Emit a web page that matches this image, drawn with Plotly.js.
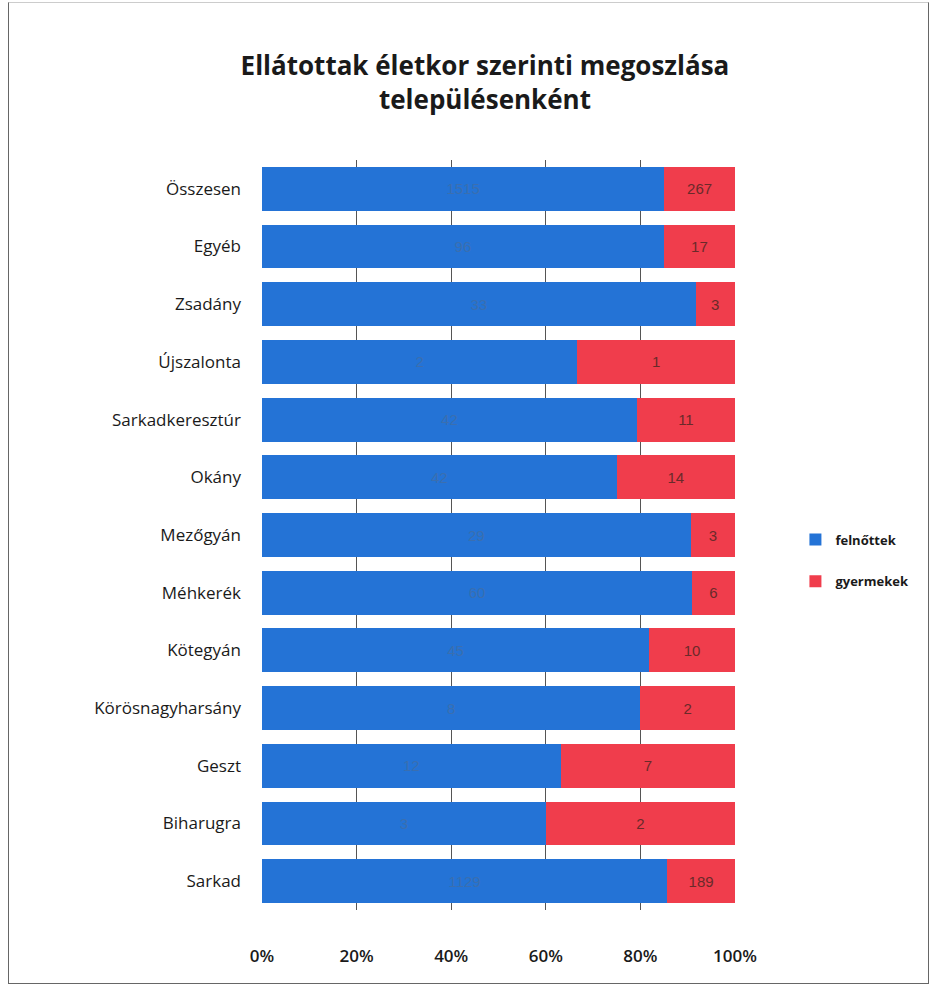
<!DOCTYPE html>
<html><head><meta charset="utf-8">
<script src="https://cdn.plot.ly/plotly-3.0.1.min.js"></script>
<style>
html,body{margin:0;padding:0;background:#fff;}
#frame{position:absolute;left:8px;top:2px;width:921px;height:982px;border:1.5px solid #666;border-top-color:#ccc;box-sizing:border-box;}
#chart{position:absolute;left:0;top:0;width:938px;height:992px;}
</style></head>
<body>
<div id="frame"></div>
<div id="chart"></div>
<script>
const categories = ["Összesen","Egyéb","Zsadány","Újszalonta","Sarkadkeresztúr","Okány","Mezőgyán","Méhkerék","Kötegyán","Körösnagyharsány","Geszt","Biharugra","Sarkad"];
const felnottek = [1515, 96, 33, 2, 42, 42, 29, 60, 45, 8, 12, 3, 1129];
const gyermekek = [267, 17, 3, 1, 11, 14, 3, 6, 10, 2, 7, 2, 189];
const xTicks = [0,20,40,60,80,100];

const traces = [
  {type:'bar', orientation:'h', name:'felnőttek', legendgroup:'a', y:categories, x:felnottek,
   marker:{color:'#2473d6'}, text:felnottek.map(String), textposition:'inside',
   insidetextanchor:'middle', textfont:{color:'#3a6fb0', size:15, family:'Liberation Sans'},
   hoverinfo:'x+y'},
  {type:'bar', orientation:'h', name:'gyermekek', legendgroup:'b', y:categories, x:gyermekek,
   marker:{color:'#f03d4c'}, text:gyermekek.map(String), textposition:'inside',
   insidetextanchor:'middle', textfont:{color:'#6a2a2a', size:15, family:'Liberation Sans'},
   hoverinfo:'x+y'}
];

const layout = {
  width:938, height:992,
  margin:{l:262, r:203, t:160, b:82},
  paper_bgcolor:'rgba(0,0,0,0)', plot_bgcolor:'#fff',
  barmode:'stack', barnorm:'percent', bargap:0.24,
  title:{text:'<b>Ellátottak életkor szerinti megoszlása<br>településenként</b>',
         x:0.517, xanchor:'center', y:0.924, yanchor:'top',
         font:{family:'Open Sans, Liberation Sans', size:26, color:'#1a1a1a'}},
  xaxis:{range:[0,100], tickvals:xTicks, ticktext:xTicks.map(v=>v+'%'),
         showgrid:true, gridcolor:'#555', gridwidth:1, zeroline:false,
         showline:false, ticks:'', ticklabelstandoff:34,
         tickfont:{family:'Open Sans, Liberation Sans', size:17, color:'#1a1a1a', weight:600}},
  yaxis:{type:'category', autorange:'reversed', showgrid:false, showline:false,
         ticks:'', ticklabelstandoff:20,
         tickfont:{family:'Open Sans, Liberation Sans', size:17, color:'#1a1a1a', weight:500}},
  legend:{x:0.848, xref:'container', y:0.435, yref:'container', yanchor:'middle', xanchor:'left',
          traceorder:'grouped', itemwidth:30, tracegroupgap:22,
          font:{family:'Open Sans, Liberation Sans', size:13, color:'#1a1a1a', weight:'bold'}},
  showlegend:true
};

Plotly.newPlot('chart', traces, layout, {displayModeBar:false, staticPlot:true});
</script>
</body></html>
